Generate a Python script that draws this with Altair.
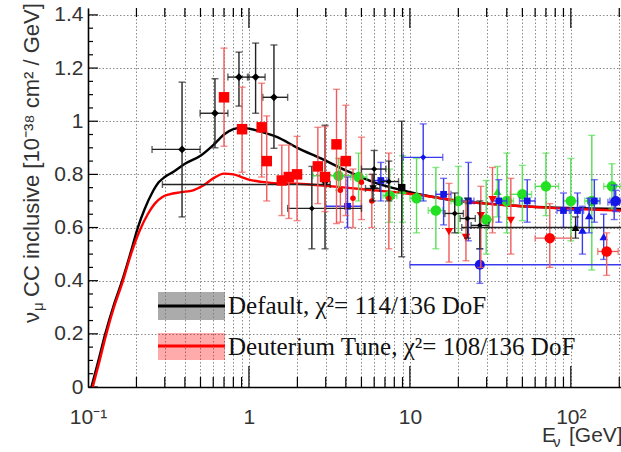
import altair as alt
import pandas as pd

# ---------------- data ----------------
# Model curves
DEF_E = [0.105, 0.115, 0.128, 0.145, 0.163, 0.185, 0.204, 0.225, 0.25, 0.275, 0.30, 0.34, 0.40, 0.50,
         0.60, 0.70, 0.80, 0.90, 1.0, 1.2, 1.5, 2.0, 2.8, 4.0, 6.0, 9.0, 14, 20, 30, 50, 80, 130, 205]
DEF_V = [0.0, 0.09, 0.20, 0.31, 0.40, 0.51, 0.60, 0.67, 0.73, 0.77, 0.79, 0.81, 0.84, 0.87,
         0.91, 0.95, 0.97, 0.975, 0.972, 0.96, 0.94, 0.90, 0.86, 0.815, 0.77, 0.74, 0.715, 0.70, 0.69, 0.68, 0.675, 0.672, 0.67]
DEU_E = [0.107, 0.117, 0.13, 0.145, 0.163, 0.185, 0.21, 0.235, 0.26, 0.29, 0.32, 0.38, 0.45, 0.52,
         0.60, 0.70, 0.80, 0.90, 1.0, 1.2, 1.5, 2.0, 3.0, 4.0, 6.0, 9.0, 14, 20, 30, 50, 80, 130, 205]
DEU_V = [0.0, 0.09, 0.20, 0.30, 0.39, 0.50, 0.59, 0.65, 0.69, 0.715, 0.725, 0.733, 0.74, 0.758,
         0.785, 0.803, 0.80, 0.79, 0.78, 0.772, 0.766, 0.765, 0.757, 0.75, 0.74, 0.73, 0.715, 0.70, 0.69, 0.68, 0.673, 0.668, 0.664]

# Measurements: energy, value, energy bin low/high, value error low/high
ANL_E = [0.384, 0.615, 0.867, 1.10, 1.43]
ANL_V = [0.894, 1.03, 1.166, 1.166, 1.09]
ANL_ELO = [0.25, 0.497, 0.74, 0.98, 1.22]
ANL_EHI = [0.497, 0.74, 1.0, 1.26, 1.74]
ANL_VLO = [0.64, 0.90, 1.057, 1.03, 0.898]
ANL_VHI = [1.147, 1.16, 1.26, 1.294, 1.287]

BNL_E = [0.70, 0.906, 1.20, 1.29, 1.60, 1.77, 1.99, 2.68, 2.97, 3.50, 4.00]
BNL_V = [1.09, 0.97, 0.977, 0.85, 0.777, 0.79, 0.80, 0.83, 0.79, 0.913, 0.85]
BNL_VLO = [0.906, 0.808, 0.79, 0.70, 0.645, 0.634, 0.626, 0.69, 0.66, 0.615, 0.645]
BNL_VHI = [1.275, 1.128, 1.143, 1.02, 0.91, 0.91, 0.943, 0.977, 0.98, 1.12, 1.06]

BLKPT_E = [2.46, 6.0, 7.4, 19.0, 22.8, 27.2]
BLKPT_V = [0.672, 0.82, 0.773, 0.653, 0.634, 0.608]
BLKPT_ELO = [1.74, 5.0, 6.6, 16.5, 20.5, 24.0]
BLKPT_EHI = [5.0, 7.1, 8.5, 21.5, 25.5, 31.0]
BLKPT_VLO = [0.52, 0.75, 0.70, 0.58, 0.56, 0.52]
BLKPT_VHI = [0.83, 0.89, 0.85, 0.73, 0.71, 0.70]

BLKDN_E = [2.97, 5.9]
BLKDN_V = [0.762, 0.747]
BLKDN_ELO = [0.29, 5.3]
BLKDN_EHI = [3.2, 6.5]
BLKDN_VLO = [0.52, 0.70]
BLKDN_VHI = [0.985, 0.80]

BLKSQ_E = [8.9]
BLKSQ_V = [0.75]
BLKSQ_VLO = [0.49]
BLKSQ_VHI = [1.0]

BLKUP_E = [107]
BLKUP_V = [0.60]
BLKUP_ELO = [21]
BLKUP_EHI = [400]
BLKUP_VLO = [0.56]
BLKUP_VHI = [0.64]

REDDOT_E = [3.7, 4.43, 5.0, 5.8, 7.4]
REDDOT_V = [0.74, 0.71, 0.77, 0.70, 0.71]
REDDOT_VLO = [0.62, 0.60, 0.63, 0.60, 0.52]
REDDOT_VHI = [0.86, 0.82, 0.94, 0.80, 0.88]

REDDN_E = [17.5, 22.3, 27.6, 32.6, 42.4]
REDDN_V = [0.585, 0.563, 0.645, 0.705, 0.627]
REDDN_VLO = [0.47, 0.475, 0.45, 0.58, 0.50]
REDDN_VHI = [0.766, 0.70, 0.755, 0.826, 0.785]

REDCI_E = [74, 167]
REDCI_V = [0.56, 0.51]
REDCI_ELO = [60, 147]
REDCI_EHI = [100, 197]
REDCI_VLO = [0.45, 0.42]
REDCI_VHI = [0.69, 0.58]

BLUSTAR_E = [12.1]
BLUSTAR_V = [0.864]
BLUSTAR_ELO = [9.1]
BLUSTAR_EHI = [16.0]
BLUSTAR_VLO = [0.70]
BLUSTAR_VHI = [0.99]

BLUCI_E = [27.2, 190]
BLUCI_V = [0.46, 0.70]
BLUCI_ELO = [10.0, 175]
BLUCI_EHI = [400, 205]
BLUCI_VLO = [0.39, 0.66]
BLUCI_VHI = [0.52, 0.74]

BLUSQ_E = [4.1, 6.6, 16.2, 23.1, 35.7, 53.6, 90, 110, 140, 186]
BLUSQ_V = [0.68, 0.777, 0.725, 0.70, 0.70, 0.70, 0.664, 0.664, 0.70, 0.695]
BLUSQ_ELO = [3.0, 6.0, 14.5, 21.0, 32.0, 48.0, 82, 100, 128, 170]
BLUSQ_EHI = [5.0, 7.2, 18.0, 25.0, 40.0, 60.0, 98, 120, 152, 200]
BLUSQ_VLO = [0.60, 0.70, 0.61, 0.55, 0.62, 0.62, 0.60, 0.60, 0.62, 0.63]
BLUSQ_VHI = [0.79, 0.845, 0.785, 0.845, 0.78, 0.78, 0.73, 0.73, 0.78, 0.76]

BLUUP_E = [118, 130, 160]
BLUUP_V = [0.59, 0.645, 0.566]
BLUUP_VLO = [0.50, 0.58, 0.48]
BLUUP_VHI = [0.68, 0.71, 0.65]

GRNCI_E = [3.6, 4.8, 7.5, 11.0, 14.5, 20, 29.8, 40, 50, 70, 100, 135, 180]
GRNCI_V = [0.795, 0.79, 0.72, 0.71, 0.664, 0.70, 0.63, 0.70, 0.725, 0.755, 0.70, 0.70, 0.755]
GRNCI_ELO = [2.5, 4.3, 6.8, 10.0, 13.0, 18.0, 27.0, 36.0, 42.0, 60.0, 90.0, 122, 160]
GRNCI_EHI = [5.0, 5.4, 8.3, 12.2, 16.0, 22.0, 33.0, 44.0, 57.0, 84.0, 111, 150, 205]
GRNCI_VLO = [0.74, 0.70, 0.62, 0.58, 0.52, 0.58, 0.50, 0.58, 0.626, 0.645, 0.55, 0.44, 0.67]
GRNCI_VHI = [0.86, 0.88, 0.82, 0.86, 0.826, 0.83, 0.777, 0.88, 0.834, 0.88, 0.86, 0.947, 0.84]

GRNUP_E = [9.0, 35.0]
GRNUP_V = [0.74, 0.736]
GRNUP_VLO = [0.62, 0.64]
GRNUP_VHI = [0.87, 0.83]

# axis tick values
Y_MAJOR = [0.0, 0.2, 0.4, 0.6, 0.8, 1.0, 1.2, 1.4]
Y_MINOR = [0.05, 0.1, 0.15, 0.25, 0.3, 0.35, 0.45, 0.5, 0.55, 0.65, 0.7, 0.75,
           0.85, 0.9, 0.95, 1.05, 1.1, 1.15, 1.25, 1.3, 1.35]
X_MAJOR = [1, 10, 100]
X_MINOR = [0.2, 0.3, 0.4, 0.5, 0.6, 0.7, 0.8, 0.9, 2, 3, 4, 5, 6, 7, 8, 9,
           20, 30, 40, 50, 60, 70, 80, 90, 200]
X_ALL = [0.1] + X_MINOR[:8] + [1] + X_MINOR[8:16] + [10] + X_MINOR[16:24] + [100] + X_MINOR[24:]

LEG_DEFAULT = "Default, χ²= 114/136 DoF"
LEG_DEUT = "Deuterium Tune, χ²= 108/136 DoF"

# ---------------- chart ----------------
W, H = 533, 379
XS = alt.Scale(type="log", domain=[0.1, 205], nice=False)
YS = alt.Scale(domain=[0, 1.426], nice=False, zero=False)
FONT = "Liberation Sans"
SERIF = "Liberation Serif"

label_x = ("datum.value == 0.1 ? '10⁻¹' : datum.value == 1 ? '1' : datum.value == 10 ? '10' : "
           "datum.value == 100 ? '10²' : ''")
XAXIS = alt.Axis(values=X_ALL, labelExpr=label_x, grid=True, gridDash=[1.5, 2], gridColor="#8a8a8a",
                 gridWidth=1, ticks=False, domain=True, domainColor="black", domainWidth=1.6,
                 labelFont=FONT, labelFontSize=21, labelColor="#333333", labelPadding=19,
                 labelFlush=False, labelOverlap=False, title=None)
YAXIS = alt.Axis(values=Y_MAJOR, labelExpr="format(datum.value, '~g')", grid=True, gridDash=[1.5, 2],
                 gridColor="#8a8a8a", gridWidth=1, ticks=False, domain=True, domainColor="black",
                 domainWidth=1.6, labelFont=FONT, labelFontSize=21, labelColor="#333333",
                 labelPadding=5, labelFlush=False, labelOverlap=False, title=None)


def X(field):
    return alt.X(field, type="quantitative", scale=XS, axis=XAXIS, title=None)


def Y(field):
    return alt.Y(field, type="quantitative", scale=YS, axis=YAXIS, title=None)


def table(E, V, ELO=None, EHI=None, VLO=None, VHI=None):
    d = {"E": E, "v": V}
    if ELO is not None:
        d["elo"] = ELO
        d["ehi"] = EHI
    if VLO is not None:
        d["vlo"] = VLO
        d["vhi"] = VHI
    return pd.DataFrame(d)


def series(df, mcolor, bcolor, shape, size):
    out = []
    if "vlo" in df:
        out.append(alt.Chart(df).mark_errorbar(ticks={"size": 7}, color=bcolor, thickness=1.4, clip=True).encode(
            x=X("E"), y=Y("vlo"), y2="vhi"))
    if "elo" in df:
        out.append(alt.Chart(df).mark_errorbar(ticks={"size": 7}, color=bcolor, thickness=1.4, clip=True).encode(
            x=X("elo"), x2="ehi", y=Y("v")))
    out.append(alt.Chart(df).mark_point(filled=True, shape=shape, size=size, color=mcolor, opacity=1, clip=True).encode(
        x=X("E"), y=Y("v")))
    return out


# axes / grid
x_axis_layer = alt.Chart(pd.DataFrame({"E": X_ALL})).mark_rule(opacity=0).encode(x=X("E"))
y_axis_layer = alt.Chart(pd.DataFrame({"v": Y_MAJOR})).mark_rule(opacity=0).encode(y=Y("v"))

tick_layers = []
xmin_df = pd.DataFrame({"E": X_MINOR})
xmaj_df = pd.DataFrame({"E": X_MAJOR})
ymin_df = pd.DataFrame({"v": Y_MINOR})
ymaj_df = pd.DataFrame({"v": Y_MAJOR})
for d, top_len, bot_len in [(xmin_df, 9, 10), (xmaj_df, 20, 21)]:
    tick_layers.append(alt.Chart(d).mark_rule(color="black", strokeWidth=1.2).encode(
        x=X("E"), y=alt.value(H), y2=alt.value(H - bot_len)))
    tick_layers.append(alt.Chart(d).mark_rule(color="black", strokeWidth=1.2).encode(
        x=X("E"), y=alt.value(0), y2=alt.value(top_len)))
for d, ln in [(ymin_df, 5), (ymaj_df, 10)]:
    tick_layers.append(alt.Chart(d).mark_rule(color="black", strokeWidth=1.2).encode(
        y=Y("v"), x=alt.value(0), x2=alt.value(ln)))

# curves
curve_def = alt.Chart(pd.DataFrame({"E": DEF_E, "v": DEF_V})).mark_line(
    color="black", strokeWidth=2.4, interpolate="monotone", clip=True).encode(x=X("E"), y=Y("v"))
curve_deu = alt.Chart(pd.DataFrame({"E": DEU_E, "v": DEU_V})).mark_line(
    color="#ff0000", strokeWidth=2.4, interpolate="monotone", clip=True).encode(x=X("E"), y=Y("v"))

BLACK_BAR = "#222222"
RED_BAR = "#f05a5a"
BLUE_BAR = "#3a3aee"
GREEN_BAR = "#55e055"

data_layers = []
data_layers += series(table(GRNCI_E, GRNCI_V, GRNCI_ELO, GRNCI_EHI, GRNCI_VLO, GRNCI_VHI), "#22e022", GREEN_BAR, "circle", 110)
data_layers += series(table(GRNUP_E, GRNUP_V, None, None, GRNUP_VLO, GRNUP_VHI), "#22e022", GREEN_BAR, "triangle-up", 70)
data_layers += series(table(BLUSQ_E, BLUSQ_V, BLUSQ_ELO, BLUSQ_EHI, BLUSQ_VLO, BLUSQ_VHI), "#1515e8", BLUE_BAR, "square", 45)
data_layers += series(table(BLUUP_E, BLUUP_V, None, None, BLUUP_VLO, BLUUP_VHI), "#1515e8", BLUE_BAR, "triangle-up", 70)
data_layers += series(table(BLUSTAR_E, BLUSTAR_V, BLUSTAR_ELO, BLUSTAR_EHI, BLUSTAR_VLO, BLUSTAR_VHI), "#1515e8", BLUE_BAR, "diamond", 40)
data_layers += series(table(BLUCI_E, BLUCI_V, BLUCI_ELO, BLUCI_EHI, BLUCI_VLO, BLUCI_VHI), "#1515e8", BLUE_BAR, "circle", 100)
data_layers += series(table(REDDOT_E, REDDOT_V, None, None, REDDOT_VLO, REDDOT_VHI), "#ff0000", RED_BAR, "circle", 30)
data_layers += series(table(REDDN_E, REDDN_V, None, None, REDDN_VLO, REDDN_VHI), "#ff0000", RED_BAR, "triangle-down", 70)
data_layers += series(table(REDCI_E, REDCI_V, REDCI_ELO, REDCI_EHI, REDCI_VLO, REDCI_VHI), "#ff0000", RED_BAR, "circle", 110)
data_layers += series(table(BLKPT_E, BLKPT_V, BLKPT_ELO, BLKPT_EHI, BLKPT_VLO, BLKPT_VHI), "black", BLACK_BAR, "diamond", 35)
data_layers += series(table(BLKDN_E, BLKDN_V, BLKDN_ELO, BLKDN_EHI, BLKDN_VLO, BLKDN_VHI), "black", BLACK_BAR, "triangle-down", 55)
data_layers += series(table(BLKSQ_E, BLKSQ_V, None, None, BLKSQ_VLO, BLKSQ_VHI), "black", BLACK_BAR, "square", 55)
data_layers += series(table(BLKUP_E, BLKUP_V, BLKUP_ELO, BLKUP_EHI, BLKUP_VLO, BLKUP_VHI), "black", BLACK_BAR, "triangle-up", 60)
data_layers += series(table(ANL_E, ANL_V, ANL_ELO, ANL_EHI, ANL_VLO, ANL_VHI), "black", BLACK_BAR, "diamond", 60)
data_layers += series(table(BNL_E, BNL_V, None, None, BNL_VLO, BNL_VHI), "#ff0000", RED_BAR, "square", 110)

# legend (drawn inside the plot like the ROOT legend)
one = pd.DataFrame({"t": [LEG_DEFAULT]})
two = pd.DataFrame({"t": [LEG_DEUT]})
legend = [
    alt.Chart(one).mark_rect(color="#777777", opacity=0.62).encode(
        x=alt.value(70), x2=alt.value(137), y=alt.value(284), y2=alt.value(312)),
    alt.Chart(one).mark_rule(color="black", strokeWidth=3).encode(
        x=alt.value(70), x2=alt.value(137), y=alt.value(298)),
    alt.Chart(one).mark_text(font=SERIF, fontSize=25, align="left", baseline="middle", color="#111111").encode(
        x=alt.value(140), y=alt.value(298), text="t:N"),
    alt.Chart(two).mark_rect(color="#ff0000", opacity=0.33).encode(
        x=alt.value(70), x2=alt.value(137), y=alt.value(325), y2=alt.value(352)),
    alt.Chart(two).mark_rule(color="#ff0000", strokeWidth=3).encode(
        x=alt.value(70), x2=alt.value(137), y=alt.value(338)),
    alt.Chart(two).mark_text(font=SERIF, fontSize=25, align="left", baseline="middle", color="#111111").encode(
        x=alt.value(140), y=alt.value(339), text="t:N"),
]

# axis titles with sub-scripts
def label(txt, size, x, y, angle=0):
    kw = dict(font=FONT, fontSize=size, align="left", baseline="middle", color="#333333")
    if angle:
        kw["angle"] = angle
    return alt.Chart(pd.DataFrame({"t": [txt]})).mark_text(**kw).encode(
        x=alt.value(x), y=alt.value(y), text="t:N")


titles = [
    label("ν", 22, -56, 315, 270),
    label("μ", 15, -50, 303, 270),
    label("CC inclusive [10⁻³⁸ cm² / GeV]", 22, -56, 289, 270),
    label("E", 21, 454, 428),
    label("ν", 15, 465, 434),
    label("[GeV]", 21, 481, 428),
]

chart = alt.layer(
    x_axis_layer, y_axis_layer, *tick_layers, curve_def, curve_deu, *data_layers, *legend, *titles
).properties(
    width=W, height=H, autosize="none",
    padding={"left": 88, "top": 8, "right": 0, "bottom": 65},
    background="white",
).configure_view(stroke=None)

chart.save("out.html", embed_options={"renderer": "svg", "actions": False})
